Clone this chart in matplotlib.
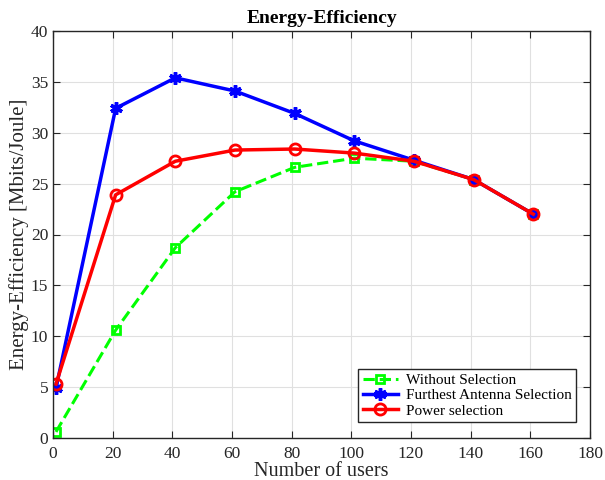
import matplotlib.pyplot as plt
import numpy as np

users = [1, 21, 41, 61, 81, 101, 121, 141, 161]
without_sel = [0.6, 10.6, 18.7, 24.2, 26.6, 27.5, 27.2, 25.4, 22.0]
furthest_sel = [4.9, 32.4, 35.4, 34.1, 31.9, 29.2, 27.3, 25.4, 22.0]
power_sel = [5.3, 23.9, 27.2, 28.3, 28.4, 28.0, 27.2, 25.4, 22.0]

plt.rcParams['font.family'] = ['Liberation Serif', 'DejaVu Serif']

fig = plt.figure(figsize=(6.05, 4.8), dpi=100)
ax = fig.add_axes([53/605, 42/480, 537/605, 407/480])

ax.plot(users, without_sel, color=(0, 1, 0), ls='--', lw=2.2, marker='s',
        ms=6, mfc='none', mew=2, label='Without Selection')
ax.plot(users, furthest_sel, color='b', ls='-', lw=2.5, marker=(6, 2, 0),
        ms=9, mew=2.5, label='Furthest Antenna Selection')
ax.plot(users, power_sel, color='r', ls='-', lw=2.5, marker='o',
        ms=8, mfc='none', mew=2, label='Power selection')

ax.set_xlim(0, 180)
ax.set_ylim(0, 40)
ax.set_xticks(np.arange(0, 181, 20))
ax.set_yticks(np.arange(0, 41, 5))
ax.grid(True, color='#e0e0e0', lw=0.8)
ax.set_axisbelow(True)
ax.tick_params(direction='in', top=True, right=True, labelsize=12.5,
               colors='#262626', length=5)
ax.tick_params(axis='x', pad=6)
for s in ax.spines.values():
    s.set_color('#262626')
    s.set_linewidth(1.0)

ax.set_xlabel('Number of users', fontsize=14.5, color='#262626', labelpad=0)
ax.set_ylabel('Energy-Efficiency [Mbits/Joule]', fontsize=15, color='#262626', labelpad=1)
ax.set_title('Energy-Efficiency', fontsize=14, fontweight='bold', pad=6)

leg = ax.legend(loc='lower right', bbox_to_anchor=(0.974, 0.039), fontsize=11,
                fancybox=False, edgecolor='#262626', framealpha=1,
                handlelength=2.3, borderpad=0.3, labelspacing=0.1,
                handletextpad=0.5, borderaxespad=0)
leg.get_frame().set_linewidth(1.0)

fig.savefig('out.png', dpi=100)
